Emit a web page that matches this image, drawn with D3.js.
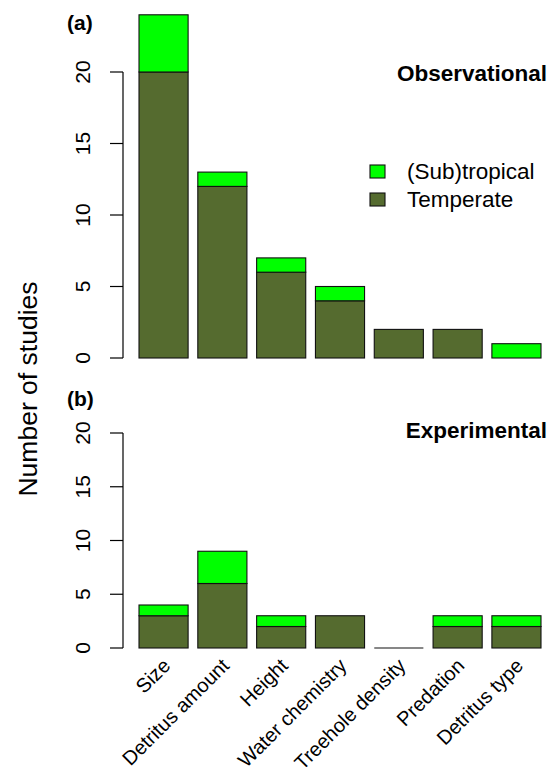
<!DOCTYPE html>
<html>
<head>
<meta charset="utf-8">
<script src="https://cdn.jsdelivr.net/npm/d3@7"></script>
<style>
  body { margin: 0; background: #fff; }
  svg { display: block; font-family: "Liberation Sans", Arial, sans-serif; }
</style>
</head>
<body>
<div id="chart"></div>
<script>
// treehole studies by factor, split by climate
const categories = ["Size", "Detritus amount", "Height", "Water chemistry",
  "Treehole density", "Predation", "Detritus type"];
const obsTemperate = [20, 12, 6, 4, 2, 2, 0];
const obsTropical = [4, 1, 1, 1, 0, 0, 1];
const expTemperate = [3, 6, 2, 3, 0, 2, 2];
const expTropical = [1, 3, 1, 0, 0, 1, 1];
const yTicks = [0, 5, 10, 15, 20];
const legendItems = [
  { label: "(Sub)tropical", color: "#00ff00" },
  { label: "Temperate", color: "#556b2f" },
];

const width = 555, height = 767;
const colTemp = "#556b2f", colTrop = "#00ff00";

const svg = d3.select("#chart").append("svg")
  .attr("width", width).attr("height", height)
  .attr("viewBox", [0, 0, width, height]);

const x = d3.scaleBand()
  .domain(categories)
  .range([139, 541])
  .paddingInner(0.165)
  .paddingOuter(0);

function panel(temp, trop, y, tag, title, tagY, titleY) {
  const g = svg.append("g");
  const stacked = categories.map((c, i) => ({ c, t: temp[i], s: trop[i] }));

  // temperate at bottom
  g.selectAll("rect.temp")
    .data(stacked.filter((d) => d.t > 0))
    .join("rect")
    .attr("class", "temp")
    .attr("x", (d) => x(d.c))
    .attr("width", x.bandwidth())
    .attr("y", (d) => y(d.t))
    .attr("height", (d) => y(0) - y(d.t))
    .attr("fill", colTemp)
    .attr("stroke", "#111")
    .attr("stroke-width", 1.1);

  // empty bars still show as a flat line
  g.selectAll("line.zero")
    .data(stacked.filter((d) => d.t + d.s === 0))
    .join("line")
    .attr("class", "zero")
    .attr("x1", (d) => x(d.c))
    .attr("x2", (d) => x(d.c) + x.bandwidth())
    .attr("y1", y(0)).attr("y2", y(0))
    .attr("stroke", "#111")
    .attr("stroke-width", 1.1);

  g.selectAll("rect.trop")
    .data(stacked.filter((d) => d.s > 0))
    .join("rect")
    .attr("class", "trop")
    .attr("x", (d) => x(d.c))
    .attr("width", x.bandwidth())
    .attr("y", (d) => y(d.t + d.s))
    .attr("height", (d) => y(d.t) - y(d.t + d.s))
    .attr("fill", colTrop)
    .attr("stroke", "#111")
    .attr("stroke-width", 1.1);

  // R-style y axis, labels turned sideways
  const ax = g.append("g").attr("transform", "translate(123,0)");
  ax.append("line")
    .attr("y1", y(0)).attr("y2", y(20))
    .attr("stroke", "#000").attr("stroke-width", 1.2);
  ax.selectAll("line.tick")
    .data(yTicks)
    .join("line")
    .attr("class", "tick")
    .attr("x1", -13).attr("x2", 0)
    .attr("y1", (d) => y(d)).attr("y2", (d) => y(d))
    .attr("stroke", "#000").attr("stroke-width", 1.2);
  ax.selectAll("text")
    .data(yTicks)
    .join("text")
    .attr("transform", (d) => `translate(-33,${y(d)}) rotate(-90)`)
    .attr("text-anchor", "middle")
    .attr("font-size", 21)
    .attr("fill", "#000")
    .text((d) => d);

  g.append("text")
    .attr("x", 67).attr("y", tagY)
    .attr("font-size", 21).attr("font-weight", "bold")
    .text(tag);

  g.append("text")
    .attr("x", 547).attr("y", titleY)
    .attr("text-anchor", "end")
    .attr("font-size", 22.5).attr("font-weight", "bold")
    .text(title);
}

const yTop = d3.scaleLinear().domain([0, 20]).range([358, 72]);
const yBot = d3.scaleLinear().domain([0, 20]).range([648, 433]);

panel(obsTemperate, obsTropical, yTop, "(a)", "Observational", 30, 81);
panel(expTemperate, expTropical, yBot, "(b)", "Experimental", 406, 438);

// legend
const lg = svg.append("g").attr("transform", "translate(370,165)");
lg.selectAll("rect")
  .data(legendItems)
  .join("rect")
  .attr("x", 0).attr("y", (d, i) => i * 28)
  .attr("width", 15).attr("height", 13)
  .attr("fill", (d) => d.color)
  .attr("stroke", "#111").attr("stroke-width", 1.1);
lg.selectAll("text")
  .data(legendItems)
  .join("text")
  .attr("x", 37).attr("y", (d, i) => i * 28 + 6.5)
  .attr("dy", "0.35em")
  .attr("font-size", 22.5)
  .text((d) => d.label);

// category labels at 45 degrees
svg.append("g").selectAll("text")
  .data(categories)
  .join("text")
  .attr("transform", (d) => `translate(${x(d) + x.bandwidth() / 2 + 3},662) rotate(-45)`)
  .attr("text-anchor", "end")
  .attr("dy", "0.35em")
  .attr("font-size", 20)
  .text((d) => d);

// shared y title
svg.append("text")
  .attr("transform", "translate(37,389) rotate(-90)")
  .attr("text-anchor", "middle")
  .attr("font-size", 26.5)
  .text("Number of studies");
</script>
</body>
</html>
